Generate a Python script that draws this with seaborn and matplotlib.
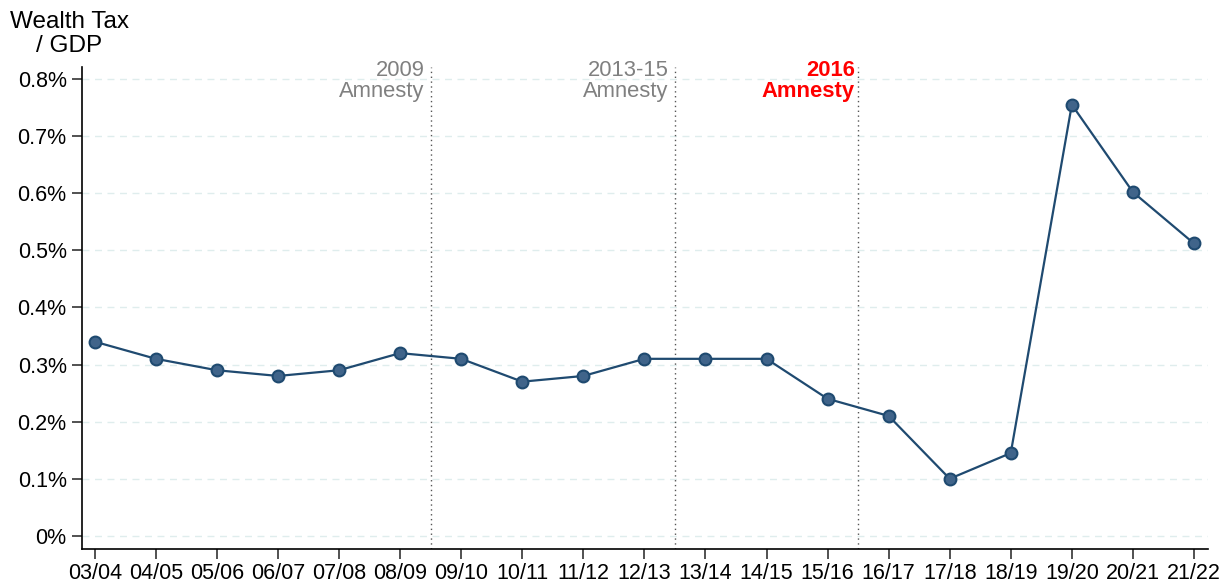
import matplotlib
matplotlib.use("Agg")
import matplotlib.pyplot as plt
import seaborn as sns
import pandas as pd

# Fiscal years and wealth tax revenue as a share of GDP (%)
years = ["03/04", "04/05", "05/06", "06/07", "07/08", "08/09", "09/10", "10/11", "11/12",
         "12/13", "13/14", "14/15", "15/16", "16/17", "17/18", "18/19", "19/20", "20/21", "21/22"]
wealth_tax_pct = [0.34, 0.31, 0.29, 0.28, 0.29, 0.32, 0.31, 0.27, 0.28,
                  0.31, 0.31, 0.31, 0.24, 0.21, 0.10, 0.145, 0.755, 0.602, 0.512]

# Amnesty programmes, placed between fiscal years
amnesty_labels = ["2009\nAmnesty", "2013-15\nAmnesty", "2016\nAmnesty"]
amnesty_pos = [5.5, 9.5, 12.5]
amnesty_colors = ["#808080", "#808080", "#ff0000"]
amnesty_weights = ["normal", "normal", "bold"]

y_ticks = [0, 0.1, 0.2, 0.3, 0.4, 0.5, 0.6, 0.7, 0.8]
y_ticklabels = ["0%", "0.1%", "0.2%", "0.3%", "0.4%", "0.5%", "0.6%", "0.7%", "0.8%"]

sns.set_theme(style="white")
plt.rcParams["font.family"] = ["Liberation Sans", "DejaVu Sans"]
plt.rcParams["text.color"] = "black"

df = pd.DataFrame({"x": range(len(years)), "value": wealth_tax_pct})

fig = plt.figure(figsize=(12.31, 5.83), dpi=100)
ax = fig.add_axes([82 / 1231, 34 / 583, (1208 - 82) / 1231, (549 - 67) / 583])

sns.lineplot(data=df, x="x", y="value", ax=ax, color="#1f4a70", linewidth=1.6,
             marker="o", markersize=8.5, markerfacecolor="#40648a",
             markeredgecolor="#1f4a70", markeredgewidth=1.5, zorder=3)

for pos, lab, col, wt in zip(amnesty_pos, amnesty_labels, amnesty_colors, amnesty_weights):
    ax.axvline(pos, color="#555555", linestyle=(0, (1, 2.5)), linewidth=1.0, zorder=2)
    gap = 0.05 if wt == "bold" else 0.1
    ax.text(pos - gap, 0.834, lab, ha="right", va="top", color=col,
            fontweight=wt, fontsize=15.8, linespacing=1.02, clip_on=False)

ax.set_xlim(-0.21, len(years) - 1 + 0.23)
ax.set_ylim(-0.023, 0.821)
ax.set_xticks(range(len(years)))
ax.set_xticklabels(years, fontsize=15.5)
ax.set_yticks(y_ticks)
ax.set_yticklabels(y_ticklabels, fontsize=15.5)
ax.set_xlabel("")
ax.set_ylabel("")

ax.yaxis.grid(True, color="#dfeded", linestyle=(0, (5, 4)), linewidth=1.0)
ax.xaxis.grid(False)
for side in ["top", "right"]:
    ax.spines[side].set_visible(False)
for side in ["left", "bottom"]:
    ax.spines[side].set_color("black")
    ax.spines[side].set_linewidth(1.2)
ax.tick_params(axis="y", direction="out", length=7, width=1.2, color="#333333",
               left=True, labelcolor="black", pad=4)
ax.tick_params(axis="x", direction="out", length=7, width=1.2, color="#333333",
               bottom=True, labelcolor="black", pad=3)

fig.text(69 / 1231, 1 - 11 / 583, "Wealth Tax\n/ GDP", ha="center", va="top",
         fontsize=17.5, linespacing=1.12, color="black")

fig.savefig("out.png", dpi=100)
